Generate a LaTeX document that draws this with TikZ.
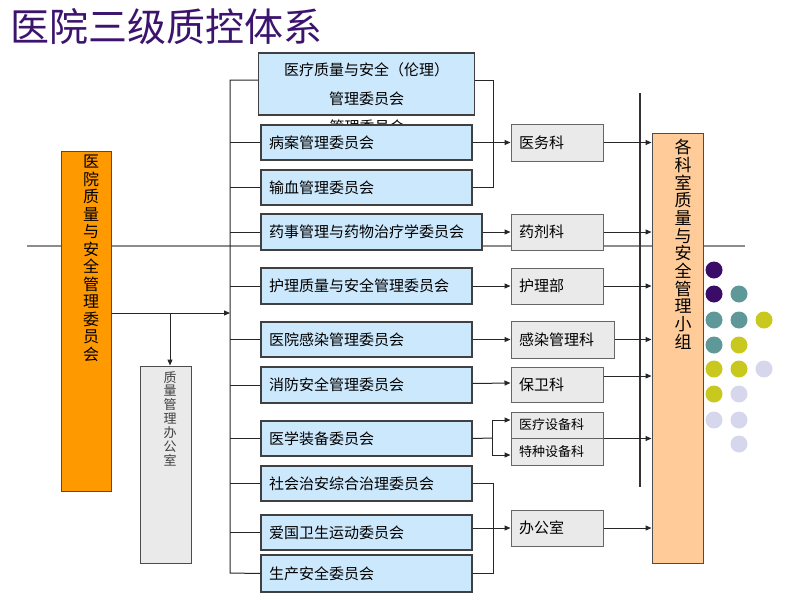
\documentclass[tikz,border=0pt]{standalone}
\usepackage{fontspec}
\setmainfont{Noto Sans CJK SC}
\usetikzlibrary{arrows.meta}
\definecolor{titlec}{RGB}{60,20,110}
\definecolor{combg}{RGB}{204,232,252}
\definecolor{deptbg}{RGB}{234,234,234}
\definecolor{orangebg}{RGB}{255,153,0}
\definecolor{peachbg}{RGB}{255,204,153}
\definecolor{dotP}{RGB}{58,12,104}
\definecolor{dotT}{RGB}{95,152,152}
\definecolor{dotY}{RGB}{200,200,30}
\definecolor{dotL}{RGB}{214,214,236}
\tikzset{
  combox/.style={draw=black!75, line width=1.1pt, fill=combg, minimum height=35pt,
    minimum width=211pt, text width=195pt, align=left, inner xsep=8pt,
    font=\fontsize{15}{17}\selectfont, anchor=center},
  deptbox/.style={draw=black!60, line width=1pt, fill=deptbg, minimum height=36pt,
    minimum width=90pt, text width=76pt, align=left, inner xsep=8pt,
    font=\fontsize{15}{17}\selectfont},
  vbox/.style={draw=black!70, line width=1pt},
  vtext/.style={align=center, inner sep=0pt},
  conn/.style={draw=black!85, line width=1pt},
  arr/.style={conn, -{Triangle[length=6pt,width=5pt]}},
  dot/.style={circle, minimum size=17pt, inner sep=0pt},
}
\begin{document}
\begin{tikzpicture}[x=1pt,y=-1pt]
\useasboundingbox (0,0) rectangle (800,600);
% background gray line
\draw[black!45, line width=1.5pt] (27,246) -- (745,246);
% title
\node[anchor=west, text=titlec, font=\fontsize{39}{42}\selectfont, inner sep=0pt] (title) at (10,27) {医院三级质控体系};
% left main box
\node[vbox, fill=orangebg, minimum width=50pt, minimum height=340pt] (hosp) at (86,321) {};
\node[vtext, font=\fontsize{16}{17.5}\selectfont, anchor=north] (hospt) at (91,155) {医\\院\\质\\量\\与\\安\\全\\管\\理\\委\\员\\会};
% quality office
\node[vbox, fill=deptbg, minimum width=51pt, minimum height=197pt] (qoff) at (165.5,464.5) {};
\node[vtext, font=\fontsize{13}{13.9}\selectfont, anchor=north, text=black!75] (qofft) at (170,371) {质\\量\\管\\理\\办\\公\\室};
% right group box
\node[vbox, fill=peachbg, minimum width=51pt, minimum height=430pt] (grp) at (677.5,348) {};
\node[vtext, font=\fontsize{17}{17.7}\selectfont, anchor=north] (grpt) at (683,139) {各\\科\\室\\质\\量\\与\\安\\全\\管\\理\\小\\组};
% ghost text
\node[font=\fontsize{15}{17}\selectfont, inner sep=0pt] (ghost) at (367,127) {管理委员会};
% committee boxes
\node[combox, minimum height=62pt, align=center, text width=200pt,
  font=\fontsize{15}{29}\selectfont] (c1) at (366.5,84) {医疗质量与安全（伦理）\\管理委员会};
\node[combox] (c2) at (366.5,142.5) {病案管理委员会};
\node[combox] (c3) at (366.5,187.5) {输血管理委员会};
\node[combox, minimum width=221pt, text width=205pt, minimum height=36pt] (c4) at (371.5,232) {药事管理与药物治疗学委员会};
\node[combox, minimum height=36pt] (c5) at (366.5,286) {护理质量与安全管理委员会};
\node[combox] (c6) at (366.5,339.5) {医院感染管理委员会};
\node[combox, minimum height=36pt] (c7) at (366.5,385) {消防安全管理委员会};
\node[combox] (c8) at (366.5,438.5) {医学装备委员会};
\node[combox] (c9) at (366.5,483.5) {社会治安综合治理委员会};
\node[combox] (c10) at (366.5,532.5) {爱国卫生运动委员会};
\node[combox, minimum height=37pt] (c11) at (366.5,573.5) {生产安全委员会};
% departments
\node[deptbox, minimum height=37pt] (yw) at (557,142.5) {医务科};
\node[deptbox] (yj) at (557,232) {药剂科};
\node[deptbox] (hl) at (557,286) {护理部};
\node[deptbox, minimum width=101pt, text width=87pt, minimum height=37pt] (gr) at (562.5,339.5) {感染管理科};
\node[deptbox, minimum height=35pt] (bw) at (557,384.5) {保卫科};
\node[deptbox, minimum height=26pt, font=\fontsize{13}{14}\selectfont] (med) at (557,425) {医疗设备科};
\node[deptbox, minimum height=27pt, font=\fontsize{13}{14}\selectfont] (spec) at (557,451.5) {特种设备科};
\node[deptbox] (off) at (557,528) {办公室};
% coordinates
\coordinate (spb) at (230,573);
\coordinate (mid) at (230,313);
\coordinate (br) at (170,313);
\coordinate (brkx) at (493,0);
\coordinate (fork) at (492,438);
% vertical dark line
\draw[black!80, line width=2pt] (640,93) -- (640,487);
% spine and branches
\draw[conn] ([yshift=4pt]c1.west) -| (spb) -- (c11.west);
\foreach \n in {c2,c3,c4,c5,c6,c7,c8,c9,c10} {\draw[conn] (\n.west) -- (\n.west -| spb);}
\draw[arr] (hosp.east |- mid) -- (mid);
\draw[arr] (br) -- (br |- qoff.north);
% brackets
\draw[conn] ([yshift=4pt]c1.east) -| (c3.east -| brkx) -- (c3.east);
\draw[arr] (c2.east) -- (yw.west);
\draw[conn] (c9.east) -| (c11.east -| brkx) -- (c11.east);
\draw[arr] (c10.east |- off.west) -- (off.west);
% single arrows
\draw[arr] (c4.east) -- (yj.west);
\draw[arr] (c5.east) -- (hl.west);
\draw[arr] (c6.east) -- (gr.west);
\draw[arr] ([yshift=1.5pt]c7.east) -- ([yshift=1.5pt]bw.west);
\draw[conn] (c8.east) -- (fork);
\draw[arr] (fork) |- ([yshift=5pt]med.west);
\draw[arr] (fork) |- ([yshift=-3.5pt]spec.west);
% to group box
\draw[arr] (yw.east) -- (yw.east -| grp.west);
\draw[arr] (yj.east) -- (yj.east -| grp.west);
\draw[arr] (hl.east) -- (hl.east -| grp.west);
\draw[arr] (gr.east) -- (gr.east -| grp.west);
\draw[arr] ([yshift=8.5pt]bw.east) -- ([yshift=8.5pt]bw.east -| grp.west);
\draw[arr] (med.south east) -- (med.south east -| grp.west);
\draw[arr] (off.east) -- (off.east -| grp.west);
% dots
\foreach \x/\y/\c [count=\i] in {714/270/dotP, 714/294/dotP, 739/294/dotT, 714/320/dotT, 739/320/dotT, 764/320/dotY, 714/345/dotT, 739/345/dotY, 714/369/dotY, 739/369/dotY, 764/369/dotL, 714/394/dotY, 739/394/dotL, 714/420/dotL, 739/420/dotL, 739/444/dotL}
  {\node[dot, fill=\c] (d\i) at (\x,\y) {};}
\end{tikzpicture}
\end{document}
